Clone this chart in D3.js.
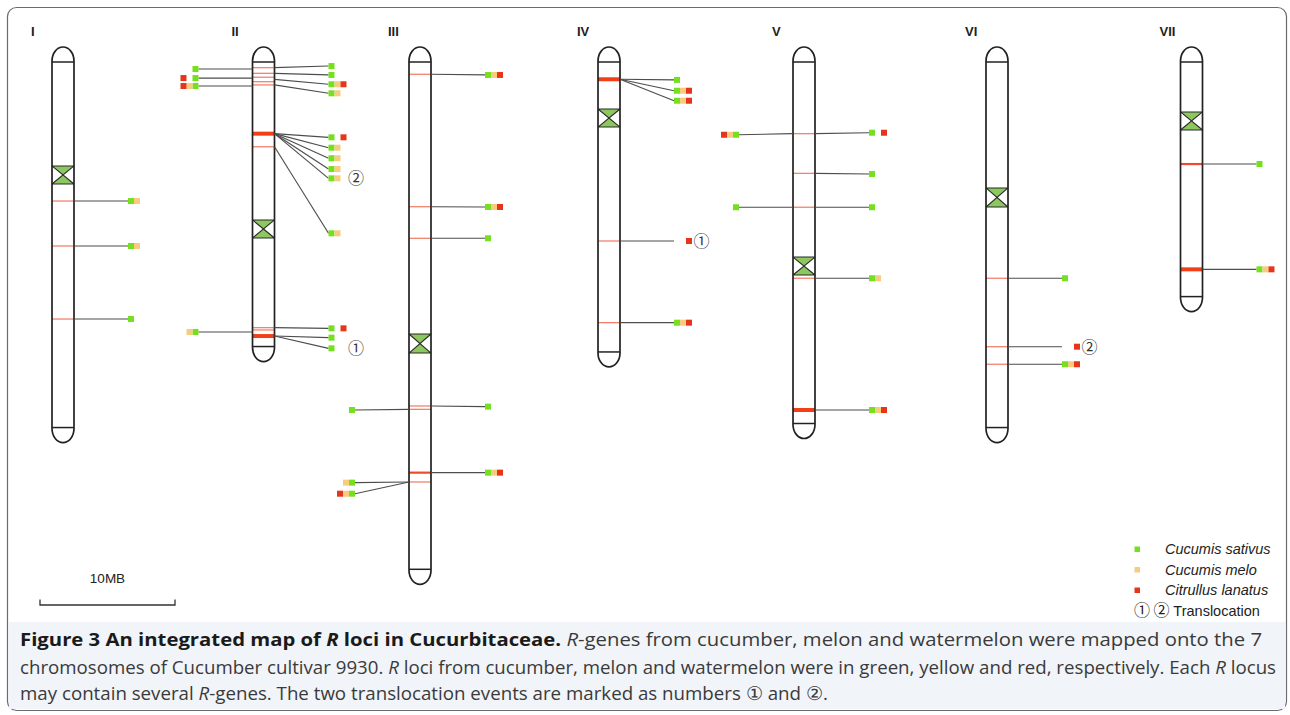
<!DOCTYPE html>
<html><head><meta charset="utf-8">
<script src="https://cdn.jsdelivr.net/npm/d3@7"></script>
<style>
html,body{margin:0;padding:0;background:#fff;}
svg{display:block;}
</style></head>
<body>
<svg id="chart" width="1290" height="715"></svg>
<script>
// ---------------- DATA ----------------
const chromosomes = ["I","II","III","IV","V","VI","VII"];
const chromLengthMB = [29.3, 23.3, 39.8, 23.7, 29.0, 29.3, 19.6];
const centromereStartMB = [8.81, 12.81, 21.26, 4.59, 15.56, 10.44, 4.81];
const centromereEndMB   = [10.15, 14.15, 22.67, 5.93, 16.89, 11.85, 6.15];

// R-locus marks on the chromosomes: [chromosome index, position MB, weight 1=thin 2=medium 3=thick]
const marks = [
  [0,11.41,1],[0,14.74,1],[0,20.15,1],
  [1,1.53,1],[1,1.95,1],[1,2.24,1],[1,2.57,1],[1,2.81,1],[1,6.42,3],[1,7.39,1],[1,20.79,1],[1,20.96,1],[1,21.41,3],
  [2,2.02,1],[2,11.83,1],[2,14.17,1],[2,26.59,1],[2,26.84,1],[2,31.53,2],[2,32.22,1],
  [3,2.39,3],[3,14.37,1],[3,20.42,1],
  [4,6.42,1],[4,9.36,1],[4,11.87,1],[4,17.13,1],[4,26.89,3],
  [5,17.13,1],[5,22.2,1],[5,23.5,1],
  [6,8.67,2],[6,16.47,3]
];

// Loci labels: [side, from MB, row MB, species present (G=C. sativus, M=C. melo, R=C. lanatus), translocation]
const lociI = [
  ["R",11.41,11.41,"GM",""],["R",14.74,14.74,"GM",""],["R",20.15,20.15,"G",""]
];
const lociII = [
  ["L",1.63,1.63,"G",""],["L",2.30,2.30,"GR",""],["L",2.89,2.89,"GMR",""],
  ["R",1.53,1.41,"G",""],["R",1.95,2.07,"G",""],["R",2.40,2.76,"GMR",""],["R",2.81,3.43,"GM",""],
  ["R",6.42,6.69,"GR",""],["R",6.42,7.46,"GM",""],["R",6.42,8.24,"GM",""],["R",6.42,9.04,"GM",""],["R",6.42,9.73,"GM","②"],
  ["R",7.39,13.8,"GM",""],
  ["L",21.11,21.11,"GM",""],["R",20.79,20.84,"GR",""],["R",21.41,21.53,"G",""],["R",21.41,22.32,"G","①"]
];
const lociIII = [
  ["R",2.02,2.07,"GMR",""],["R",11.83,11.85,"GMR",""],["R",14.17,14.17,"G",""],
  ["R",26.59,26.64,"G",""],["L",26.84,26.89,"G",""],["R",31.53,31.53,"GMR",""],
  ["L",32.22,32.27,"GM",""],["L",32.22,33.09,"GMR",""]
];
const lociIV = [
  ["R",2.39,2.44,"G",""],["R",2.39,3.24,"GMR",""],["R",2.39,3.98,"GMR",""],
  ["R",14.37,14.37,"R","①"],["R",20.42,20.42,"GMR",""]
];
const lociV = [
  ["R",6.42,6.35,"GR",""],["L",6.42,6.50,"GMR",""],["R",9.36,9.41,"G",""],
  ["R",11.87,11.87,"G",""],["L",11.87,11.87,"G",""],["R",17.13,17.13,"GM",""],["R",26.89,26.89,"GMR",""]
];
const lociVI = [
  ["R",17.13,17.13,"G",""],["R",22.2,22.2,"R","②"],["R",23.5,23.5,"GMR",""]
];
const lociVII = [
  ["R",8.67,8.67,"G",""],["R",16.47,16.47,"GMR",""]
];
const lociByChrom = [lociI, lociII, lociIII, lociIV, lociV, lociVI, lociVII];

const species = ["G","M","R"];
const speciesNames = ["Cucumis sativus","Cucumis melo","Citrullus lanatus"];
const scaleBarMB = 10;
const scaleBarLabel = "10MB";

// ---------------- LAYOUT / STYLE ----------------
const chromCenterX = [63, 263.5, 420, 609, 804, 997, 1191.5];
const chromW = 22, capH = 14;
const speciesColor = d3.scaleOrdinal().domain(species).range(["#74e01e","#f8cc80","#e5361b"]);
const markStyle = {1:{w:1.3,c:"#f3826e"},2:{w:2.2,c:"#ef4a2a"},3:{w:4,c:"#f23f18"}};

const svg = d3.select("#chart");
const y = d3.scaleLinear().domain([0, 40]).range([47, 47 + 540]);

// outer frame
svg.append("rect").attr("x",7.5).attr("y",7.5).attr("width",1279).attr("height",703)
  .attr("rx",9).attr("fill","#fff").attr("stroke","#6b6b6b").attr("stroke-width",1.2);
// caption background
svg.append("rect").attr("x",9).attr("y",622).attr("width",1276).attr("height",87)
  .attr("fill","#f1f4f8");

const g = svg.append("g");

chromosomes.forEach((name, i) => {
  const cx = chromCenterX[i], x0 = cx - chromW/2, x1 = cx + chromW/2;
  const top = y(0), bot = y(chromLengthMB[i]);
  const cg = g.append("g");
  cg.append("text").attr("x", cx - 32).attr("y", 36).text(name)
    .attr("font-family","Liberation Sans, Arial, sans-serif").attr("font-weight","bold")
    .attr("font-size",13).attr("fill","#222");
  cg.append("rect").attr("x",x0).attr("y",top).attr("width",chromW).attr("height",bot-top)
    .attr("rx",chromW/2).attr("ry",capH).attr("fill","#fff");
  const c0 = y(centromereStartMB[i]), c1 = y(centromereEndMB[i]), cm = (c0+c1)/2;
  cg.append("path").attr("d",`M${x0},${c0}L${x1},${c0}L${cx},${cm}Z M${x0},${c1}L${x1},${c1}L${cx},${cm}Z`)
    .attr("fill","#8dc75f").attr("stroke","none");
  cg.append("path").attr("d",`M${x0},${c0}L${x1},${c0} M${x0},${c1}L${x1},${c1} M${x0},${c0}L${x1},${c1} M${x1},${c0}L${x0},${c1}`)
    .attr("fill","none").attr("stroke","#2a2a2a").attr("stroke-width",1.1);
  marks.filter(m => m[0] === i).forEach(m => {
    const st = markStyle[m[2]];
    cg.append("line").attr("x1",x0).attr("x2",x1).attr("y1",y(m[1])).attr("y2",y(m[1]))
      .attr("stroke",st.c).attr("stroke-width",st.w);
  });
  cg.append("line").attr("x1",x0).attr("x2",x1).attr("y1",top+capH+1).attr("y2",top+capH+1)
    .attr("stroke","#222").attr("stroke-width",1.5);
  cg.append("line").attr("x1",x0).attr("x2",x1).attr("y1",bot-capH-1).attr("y2",bot-capH-1)
    .attr("stroke","#222").attr("stroke-width",1.5);
  cg.append("rect").attr("x",x0).attr("y",top).attr("width",chromW).attr("height",bot-top)
    .attr("rx",chromW/2).attr("ry",capH).attr("fill","none").attr("stroke","#222").attr("stroke-width",1.7);

  lociByChrom[i].forEach(l => {
    const [side, fromMB, rowMB, sp, note] = l;
    const ym = y(fromMB), yr = y(rowMB);
    const sq = 6, off = 65;
    if (side === "R") {
      const sx = cx + off;
      cg.append("line").attr("x1",x1).attr("y1",ym).attr("x2",sx).attr("y2",yr)
        .attr("stroke","#4d4d4d").attr("stroke-width",1.15);
      species.forEach((s, k) => {
        if (sp.includes(s)) cg.append("rect").attr("x",sx + k*sq).attr("y",yr - sq/2)
          .attr("width",sq).attr("height",sq).attr("fill",speciesColor(s));
      });
      if (note) cg.append("text").attr("x",sx + 3*sq + 1.5).attr("y",yr + 6).text(note)
        .attr("font-family","Noto Sans CJK SC, DejaVu Sans, sans-serif").attr("font-size",16).attr("fill","#333");
    } else {
      const sx = cx - off;
      cg.append("line").attr("x1",x0).attr("y1",ym).attr("x2",sx).attr("y2",yr)
        .attr("stroke","#4d4d4d").attr("stroke-width",1.15);
      species.forEach((s, k) => {
        if (sp.includes(s)) cg.append("rect").attr("x",sx - (k+1)*sq).attr("y",yr - sq/2)
          .attr("width",sq).attr("height",sq).attr("fill",speciesColor(s));
      });
    }
  });
});

// scale bar
const barLen = y(scaleBarMB) - y(0);
const sb = svg.append("g");
sb.append("path").attr("d",`M40,599.5V605H${40+barLen}V599.5`).attr("fill","none")
  .attr("stroke","#333").attr("stroke-width",1.3);
sb.append("text").attr("x",40+barLen/2).attr("y",583).attr("text-anchor","middle").text(scaleBarLabel)
  .attr("font-family","Liberation Sans, Arial, sans-serif").attr("font-size",13.5).attr("fill","#222");

// legend
const lg = svg.append("g");
speciesNames.forEach((n, k) => {
  const yy = 549 + k*20.5;
  lg.append("rect").attr("x",1134.5).attr("y",yy-2.5).attr("width",5.5).attr("height",5.5).attr("fill",speciesColor(species[k]));
  lg.append("text").attr("x",1165).attr("y",yy+5).text(n)
    .attr("font-family","Liberation Sans, Arial, sans-serif").attr("font-style","italic")
    .attr("font-size",14.5).attr("fill","#222");
});
const tl = lg.append("text").attr("x",1134).attr("y",615.5)
  .attr("font-family","Liberation Sans, Arial, sans-serif").attr("font-size",14.5).attr("fill","#222");
tl.append("tspan").attr("font-family","Noto Sans CJK SC, DejaVu Sans, sans-serif").attr("font-size",16).text("① ②");
tl.append("tspan").text(" Translocation");

// caption
const capLines = [
  [[ "Figure 3 An integrated map of ", "b"],["R","bi"],[" loci in Cucurbitaceae.","b"],[" ",""],["R","i"],["-genes from cucumber, melon and watermelon were mapped onto the 7",""]],
  [["chromosomes of Cucumber cultivar 9930. ",""],["R","i"],[" loci from cucumber, melon and watermelon were in green, yellow and red, respectively. Each ",""],["R","i"],[" locus",""]],
  [["may contain several ",""],["R","i"],["-genes. The two translocation events are marked as numbers ① and ②.",""]]
];
const capLens = [1242, 1256, 808];
const capY = [646, 674, 700];
capLines.forEach((segs, li) => {
  const t = svg.append("text").attr("x",20).attr("y",capY[li])
    .attr("font-family","Open Sans, Liberation Sans, sans-serif").attr("font-size",18.5).attr("fill","#3a3a3a")
    .attr("textLength",capLens[li]).attr("lengthAdjust","spacingAndGlyphs");
  segs.forEach(([s, st]) => {
    const ts = t.append("tspan").text(s);
    if (st.includes("b")) ts.attr("font-weight","bold").attr("fill","#1a1a1a");
    if (st.includes("i")) ts.attr("font-style","italic");
  });
});
</script>
</body></html>
